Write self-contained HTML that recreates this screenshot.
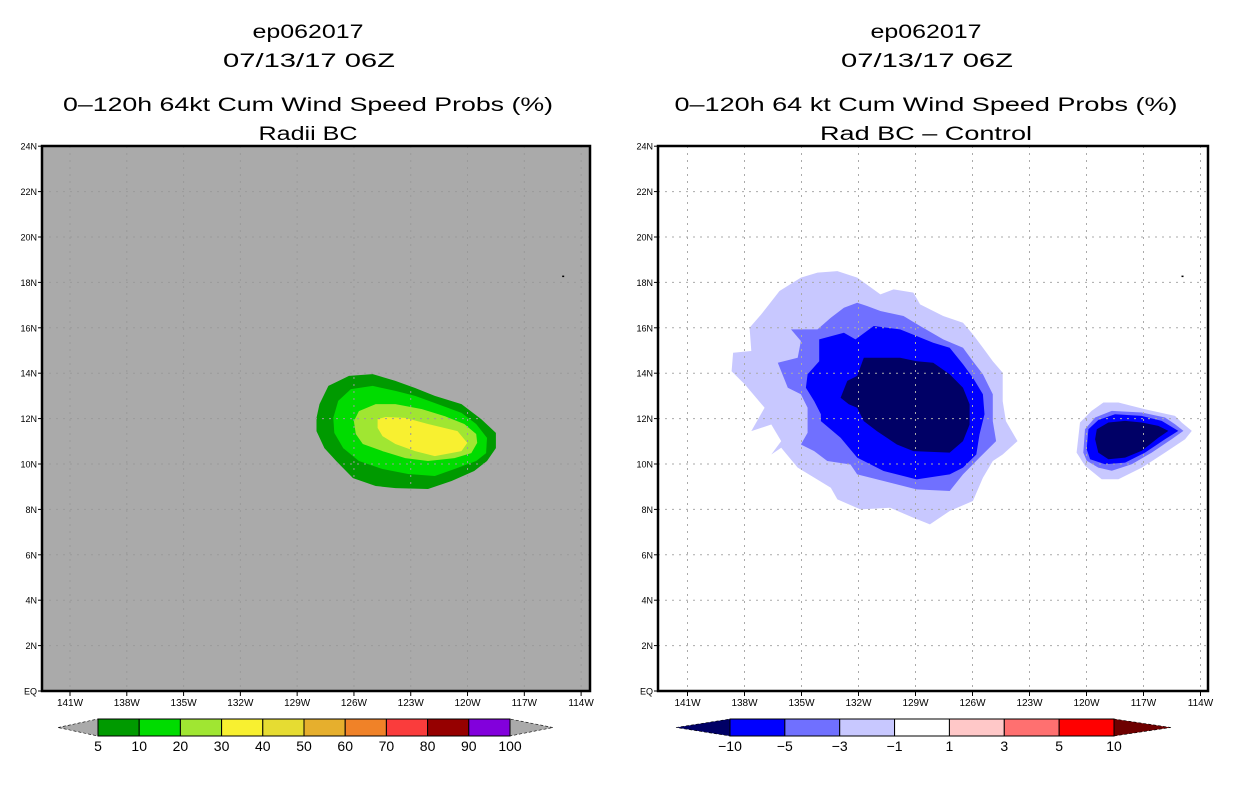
<!DOCTYPE html>
<html><head><meta charset="utf-8"><style>
html,body{margin:0;padding:0;background:#fff;}
svg{display:block;font-family:"Liberation Sans",sans-serif;}
</style></head><body>
<svg id="chart" width="1236" height="800" viewBox="0 0 1236 800" xmlns="http://www.w3.org/2000/svg">
<rect x="0" y="0" width="1236" height="800" fill="#fff"/>
<g id="titles">
<text x="308" y="38" font-size="19" text-anchor="middle" textLength="111" lengthAdjust="spacingAndGlyphs">ep062017</text>
<text x="309" y="67" font-size="19" text-anchor="middle" textLength="172" lengthAdjust="spacingAndGlyphs">07/13/17 06Z</text>
<text x="308" y="111" font-size="19" text-anchor="middle" textLength="490" lengthAdjust="spacingAndGlyphs">0–120h 64kt Cum Wind Speed Probs (%)</text>
<text x="308" y="140" font-size="19" text-anchor="middle" textLength="99" lengthAdjust="spacingAndGlyphs">Radii BC</text>
<text x="926" y="38" font-size="19" text-anchor="middle" textLength="111" lengthAdjust="spacingAndGlyphs">ep062017</text>
<text x="927" y="67" font-size="19" text-anchor="middle" textLength="172" lengthAdjust="spacingAndGlyphs">07/13/17 06Z</text>
<text x="926" y="111" font-size="19" text-anchor="middle" textLength="503" lengthAdjust="spacingAndGlyphs">0–120h 64 kt Cum Wind Speed Probs (%)</text>
<text x="926" y="140" font-size="19" text-anchor="middle" textLength="212" lengthAdjust="spacingAndGlyphs">Rad BC – Control</text>
</g>
</svg>
<script>
// ---- data ----
const lonTicks = [-141,-138,-135,-132,-129,-126,-123,-120,-117,-114];
const lonTickLabels = ["141W","138W","135W","132W","129W","126W","123W","120W","117W","114W"];
const latTicks = [0,2,4,6,8,10,12,14,16,18,20,22,24];
const latTickLabels = ["EQ","2N","4N","6N","8N","10N","12N","14N","16N","18N","20N","22N","24N"];

const probLevels = ["5","10","20","30","40","50","60","70","80","90","100"];
const probColors = ["#009a00","#00dc00","#a0e632","#f8f030","#e6dc32","#e6af2d","#f08228","#fa3c3c","#960000","#8200dc"];
const diffLevels = ["−10","−5","−3","−1","1","3","5","10"];
const diffColors = ["#0000ff","#7070ff","#c8c8ff","#ffffff","#ffc8c8","#ff7070","#ff0000"];
const diffLowTip = "#000066", diffHighTip = "#6e0000";

// Left panel contours (lon, lat)
const prob5 = [[-127.98,12.03],[-127.82,12.64],[-127.35,13.44],[-126.26,13.88],[-125.01,13.96],[-123.81,13.66],[-122.77,13.35],[-121.73,13.0],[-120.32,12.64],[-119.28,11.98],[-118.5,11.37],[-118.5,10.70],[-118.97,10.13],[-119.65,9.69],[-120.84,9.25],[-122.09,8.90],[-123.81,8.94],[-124.85,9.03],[-126.05,9.38],[-126.94,10.13],[-127.56,10.70],[-127.98,11.45]];
const prob10 = [[-127.09,12.03],[-126.83,12.78],[-126.16,13.30],[-125.01,13.44],[-123.81,13.22],[-122.77,13.0],[-121.57,12.64],[-120.32,12.25],[-119.54,11.76],[-118.97,11.15],[-119.02,10.48],[-119.54,10.13],[-120.69,9.78],[-121.73,9.47],[-123.14,9.56],[-124.49,9.78],[-125.74,10.13],[-126.57,10.70],[-127.04,11.37]];
const prob20 = [[-126.0,11.89],[-125.74,12.33],[-124.85,12.64],[-123.81,12.64],[-122.41,12.42],[-121.21,12.11],[-120.17,11.76],[-119.54,11.32],[-119.49,10.93],[-119.80,10.48],[-120.69,10.26],[-122.09,10.13],[-123.29,10.26],[-124.49,10.57],[-125.53,10.88],[-125.90,11.32]];
const prob30 = [[-124.75,11.98],[-124.33,12.07],[-123.29,12.03],[-122.09,11.76],[-120.53,11.45],[-120.01,10.93],[-120.32,10.57],[-121.73,10.35],[-122.77,10.57],[-123.81,10.88],[-124.49,11.23],[-124.75,11.59]];

// Right panel contours (lon, lat)
const diffM1 = [[-138.68,14.09],[-138.60,14.90],[-137.64,14.98],[-137.73,16.0],[-137.12,16.59],[-136.16,17.62],[-135.03,18.21],[-134.16,18.43],[-133.11,18.50],[-132.07,18.21],[-130.85,17.47],[-130.15,17.69],[-129.11,17.55],[-128.76,17.03],[-127.54,16.52],[-126.50,16.22],[-125.98,15.71],[-125.45,15.12],[-124.93,14.53],[-124.41,14.02],[-124.41,12.77],[-124.24,11.89],[-123.63,11.01],[-124.41,10.42],[-124.93,10.13],[-125.45,9.39],[-125.98,8.37],[-127.20,7.93],[-128.24,7.34],[-129.11,7.63],[-130.33,8.07],[-131.90,8.0],[-133.11,8.44],[-133.46,8.95],[-134.33,9.40],[-135.20,9.84],[-136.07,10.72],[-136.59,10.42],[-136.07,11.01],[-136.59,11.74],[-137.64,11.45],[-136.94,12.48],[-137.99,13.51]];
const diffM3 = [[-135.55,15.93],[-134.16,15.93],[-133.46,16.44],[-132.77,16.88],[-132.07,17.10],[-131.55,16.96],[-130.85,16.74],[-129.63,16.52],[-128.76,16.08],[-127.54,15.49],[-126.50,15.12],[-125.98,14.53],[-125.45,13.95],[-124.93,13.07],[-124.93,11.89],[-124.76,11.01],[-125.63,10.28],[-126.50,9.54],[-127.20,8.81],[-128.94,8.88],[-130.68,9.25],[-132.07,9.54],[-132.42,9.98],[-133.64,10.13],[-134.33,10.57],[-135.03,10.86],[-134.68,11.38],[-134.68,12.48],[-135.03,13.07],[-135.72,13.36],[-136.25,14.46],[-135.20,14.68],[-135.03,15.42]];
const diffM5 = [[-134.07,15.49],[-132.77,15.78],[-132.16,15.49],[-131.20,16.08],[-129.81,15.93],[-128.94,15.64],[-128.07,15.34],[-127.20,15.12],[-126.50,14.39],[-125.98,13.80],[-125.45,13.07],[-125.37,12.19],[-125.63,11.30],[-125.80,10.42],[-126.50,9.84],[-127.20,9.54],[-128.94,9.32],[-130.68,9.69],[-132.07,10.28],[-132.94,11.16],[-133.98,11.89],[-133.98,12.19],[-134.33,12.77],[-134.77,13.36],[-134.68,13.95],[-134.07,14.53]];
const diffM10 = [[-131.72,14.68],[-129.81,14.68],[-128.94,14.53],[-128.07,14.46],[-127.20,13.95],[-126.50,13.36],[-126.15,12.63],[-126.15,11.74],[-126.50,11.01],[-127.20,10.50],[-129.11,10.57],[-129.98,10.86],[-131.03,11.45],[-131.72,11.89],[-132.07,12.48],[-132.51,12.63],[-132.94,12.92],[-132.59,13.66],[-132.07,13.88]];
const diff2M1 = [[-120.52,10.50],[-120.34,11.83],[-119.73,12.34],[-119.11,12.71],[-118.32,12.71],[-116.92,12.41],[-115.34,12.12],[-114.99,11.83],[-114.46,11.46],[-114.81,11.09],[-115.87,10.50],[-117.09,9.84],[-118.32,9.33],[-119.20,9.33],[-120.08,9.92]];
const diff2M3 = [[-120.17,10.50],[-120.08,11.53],[-119.55,12.05],[-118.67,12.34],[-117.09,12.27],[-115.87,12.05],[-115.34,11.75],[-114.90,11.46],[-115.52,11.09],[-116.57,10.50],[-117.62,9.99],[-118.67,9.70],[-119.38,9.84],[-119.99,10.14]];
const diff2M5 = [[-119.99,10.65],[-119.90,11.53],[-119.38,11.94],[-118.50,12.19],[-117.09,12.12],[-116.04,11.90],[-115.17,11.46],[-115.87,11.09],[-116.92,10.50],[-117.97,10.06],[-119.02,9.99],[-119.81,10.21]];
const diff2M10 = [[-119.55,11.09],[-119.46,11.53],[-118.85,11.83],[-117.97,11.90],[-117.09,11.83],[-116.22,11.68],[-115.69,11.46],[-116.22,11.16],[-117.09,10.58],[-117.97,10.28],[-118.85,10.21],[-119.38,10.50]];
const islandPoint = [-115.0, 18.3];

// ---- layout ----
const NS = "http://www.w3.org/2000/svg";
const svg = document.getElementById("chart");
const panels = [
  {id:"left", x0:42, x1:590, lonRef:70, scale:18.93, bg:"#aaaaaa", grid:"#9a9a9a"},
  {id:"right", x0:658, x1:1208, lonRef:687.5, scale:19.0, bg:"#ffffff", grid:"#aaaaaa"}
];
const yTop = 146, yBot = 691, latScale = 22.7;
function xScale(p, lon){ return p.lonRef + (lon + 141) * p.scale; }
function yScale(lat){ return yBot - lat * latScale; }
function mk(tag, attrs, parent){
  const e = document.createElementNS(NS, tag);
  for (const k in attrs) e.setAttribute(k, attrs[k]);
  (parent || svg).appendChild(e);
  return e;
}
function polyPath(p, pts){
  return pts.map((q,i)=>(i?"L":"M")+xScale(p,q[0]).toFixed(1)+","+yScale(q[1]).toFixed(1)).join("")+"Z";
}

function drawPanel(p, layers){
  const g = mk("g", {});
  
  
  const bg = mk("rect", {x:p.x0, y:yTop, width:p.x1-p.x0, height:yBot-yTop, fill:p.bg}, g);
  
  
  layers.forEach(L=>{
    const path = mk("path", {d:polyPath(p, L.pts), fill:L.color}, g);
    
    
  });
  // grid
  const gg = mk("g", {stroke:p.grid, "stroke-width":1, "stroke-dasharray":"2 5", fill:"none"}, g);
  
  
  lonTicks.forEach(lon=>{
    const x = xScale(p, lon);
    mk("line", {x1:x, x2:x, y1:yTop, y2:yBot}, gg);
  });
  latTicks.forEach(lat=>{
    if (lat===0 || lat===24) return;
    const y = yScale(lat);
    mk("line", {x1:p.x0, x2:p.x1, y1:y, y2:y}, gg);
  });
  // island dot
  const dot = mk("rect", {x:xScale(p, islandPoint[0]), y:yScale(islandPoint[1]), width:2, height:1.5, fill:"#000"}, g);
  
  
  // frame
  const fr = mk("rect", {x:p.x0, y:yTop, width:p.x1-p.x0, height:yBot-yTop, fill:"none", stroke:"#000", "stroke-width":2.5}, g);
  
  
  // ticks
  const ax = mk("g", {}, g);
  
  
  lonTicks.forEach((lon,i)=>{
    const x = xScale(p, lon);
    mk("line", {x1:x, x2:x, y1:yBot, y2:yBot+5, stroke:"#000", "stroke-width":1}, ax);
    const t = mk("text", {x:x, y:yBot+15, "font-size":10, "text-anchor":"middle"}, ax);
    
    
    t.textContent = lonTickLabels[i];
  });
  const ay = mk("g", {}, g);
  
  
  latTicks.forEach((lat,i)=>{
    const y = yScale(lat);
    mk("line", {x1:p.x0-4, x2:p.x0, y1:y, y2:y, stroke:"#000", "stroke-width":1}, ay);
    const t = mk("text", {x:p.x0-5, y:y+3.5, "font-size":9, "text-anchor":"end"}, ay);
    
    
    t.textContent = latTickLabels[i];
  });
}

drawPanel(panels[0], [
  {pts:prob5, color:probColors[0], name:"prob-5-contour"},
  {pts:prob10, color:probColors[1], name:"prob-10-contour"},
  {pts:prob20, color:probColors[2], name:"prob-20-contour"},
  {pts:prob30, color:probColors[3], name:"prob-30-contour"}
]);
drawPanel(panels[1], [
  {pts:diffM1, color:diffColors[2], name:"diff-minus1-contour"},
  {pts:diffM3, color:diffColors[1], name:"diff-minus3-contour"},
  {pts:diffM5, color:diffColors[0], name:"diff-minus5-contour"},
  {pts:diffM10, color:diffLowTip, name:"diff-minus10-contour"},
  {pts:diff2M1, color:diffColors[2], name:"diff2-minus1-contour"},
  {pts:diff2M3, color:diffColors[1], name:"diff2-minus3-contour"},
  {pts:diff2M5, color:diffColors[0], name:"diff2-minus5-contour"},
  {pts:diff2M10, color:diffLowTip, name:"diff2-minus10-contour"}
]);

// ---- colorbars ----
function colorbar(name, bx0, bx1, tip0, tip1, colors, lowTip, highTip, labels){
  const g = mk("g", {});
  
  
  const y0 = 719, y1 = 736, ym = (y0+y1)/2;
  const n = colors.length, w = (bx1-bx0)/n;
  const t1 = mk("polygon", {points:`${tip0},${ym} ${bx0},${y0} ${bx0},${y1}`, fill:lowTip, stroke:"#000", "stroke-width":0.6, "stroke-dasharray":"3 2"}, g);
  
  
  const t2 = mk("polygon", {points:`${tip1},${ym} ${bx1},${y0} ${bx1},${y1}`, fill:highTip, stroke:"#000", "stroke-width":0.6, "stroke-dasharray":"3 2"}, g);
  
  
  colors.forEach((c,i)=>{
    const r = mk("rect", {x:bx0+i*w, y:y0, width:w, height:y1-y0, fill:c, stroke:"#000", "stroke-width":1}, g);
    
    
  });
  labels.forEach((l,i)=>{
    const t = mk("text", {x:bx0+i*w, y:751, "font-size":14, "text-anchor":"middle"}, g);
    
    
    t.textContent = l;
  });
}
colorbar("prob-colorbar", 98, 510, 58, 553, probColors, "#aaaaaa", "#aaaaaa", probLevels);
colorbar("diff-colorbar", 730, 1114, 676, 1171, diffColors, diffLowTip, diffHighTip, diffLevels);
</script>
</body></html>
